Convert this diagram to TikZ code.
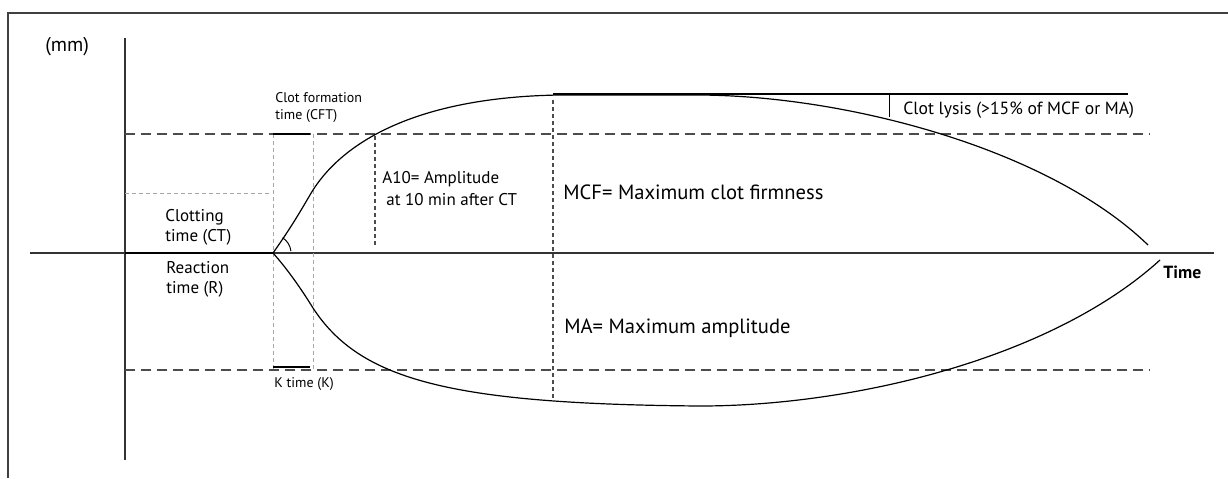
\documentclass[tikz,border=0pt]{standalone}
\usepackage{fontspec}
\setmainfont{PT Sans}
\usepackage{xcolor}
\usetikzlibrary{positioning, calc}
\tikzset{
    axis/.style={draw=black!80, line width=0.6pt},
    curve/.style={draw=black, line width=0.6pt},
    level/.style={draw=black!70, dash pattern=on 5pt off 3pt, line width=0.55pt},
    marker/.style={draw=black!70, dash pattern=on 2pt off 1.5pt, line width=0.6pt},
    faint/.style={draw=black!35, dash pattern=on 2pt off 1.5pt, line width=0.45pt},
    txt/.style={anchor=west, inner sep=0pt, align=left, font=\fontsize{8.5}{10}\selectfont},
    small/.style={txt, font=\fontsize{7}{8.5}\selectfont},
    big/.style={txt, font=\fontsize{10.3}{12}\selectfont}
}

\begin{document}
\begin{tikzpicture}[x=0.5pt, y=-0.5pt]
    \useasboundingbox (0,0) rectangle (1228,478);

    % Frame
    \draw[line width=1pt, black!75] (8,478) -- (8,13) -- (1228,13);

    % Axes
    \coordinate (ybot) at (125,460);
    \coordinate (ytop) at (125,38);
    \coordinate (xl) at (30,253);
    \coordinate (xr) at (1214,253);
    \coordinate (o) at (125,253);
    \coordinate (s) at (273,253);
    \draw[axis] (ybot) -- (ytop);
    \draw[axis] (xl) -- (xr);
    \draw[line width=1.1pt] (o) -- (s);

    % Levels
    \draw[level] (125,134) -- (1150,134);
    \draw[level] (125,370) -- (1150,370);

    % CT / CFT / K guides
    \draw[faint] (125,193) -- (271,193);
    \draw[faint] (273,134) -- (273,370);
    \draw[faint] (313,134) -- (313,370);
    \draw[line width=0.8pt] (273,134) -- (310,134);
    \draw[line width=0.8pt] (273,367) -- (310,367);

    % Trace
    \draw[curve] (s) .. controls (295,222) and (305,203) .. (313,190)
        .. controls (345,140) and (420,97) .. (560,95) -- (700,95)
        .. controls (850,96) and (1050,150) .. (1148,245);
    \draw[curve] (s) .. controls (290,272) and (305,295) .. (313,308)
        .. controls (360,380) and (450,404) .. (700,406)
        .. controls (850,406) and (1050,360) .. (1160,260);
    \draw[line width=0.5pt] ($(s)+(6:9pt)$) arc[start angle=6, end angle=58, radius=9pt];

    % A10, MCF / MA and lysis markers
    \draw[marker] (375,136) -- (375,248);
    \draw[marker] (553,100) -- (553,400);
    \draw[line width=0.6pt] (553,94) -- (1128,94);
    \draw[line width=0.4pt] (889,94) -- (889,117);

    % Labels
    \node[txt, font=\fontsize{10}{12}\selectfont] (mm) at (45,47) {(mm)};
    \node[small] (cft) at (275,108) {Clot formation\\time (CFT)};
    \node[txt] (ct) at (165,227) {Clotting\\time (CT)};
    \node[txt] (rt) at (166,279) {Reaction\\time (R)};
    \node[small] (kt) at (274,384) {K time (K)};
    \node[txt, font=\fontsize{8.5}{11}\selectfont] (a10) at (382,189) {A10= Amplitude\\\hspace{2pt}at 10 min after CT};
    \node[big] (mcf) at (563,192) {MCF= Maximum clot firmness};
    \node[txt, font=\fontsize{8.8}{10}\selectfont] (lysis) at (903,110) {Clot lysis (>15\% of MCF or MA)};
    \node[big] (ma) at (564,328) {MA= Maximum amplitude};
    \node[txt, font=\fontsize{8.8}{10}\selectfont\bfseries] (time) at (1163,272) {Time};
\end{tikzpicture}
\end{document}
